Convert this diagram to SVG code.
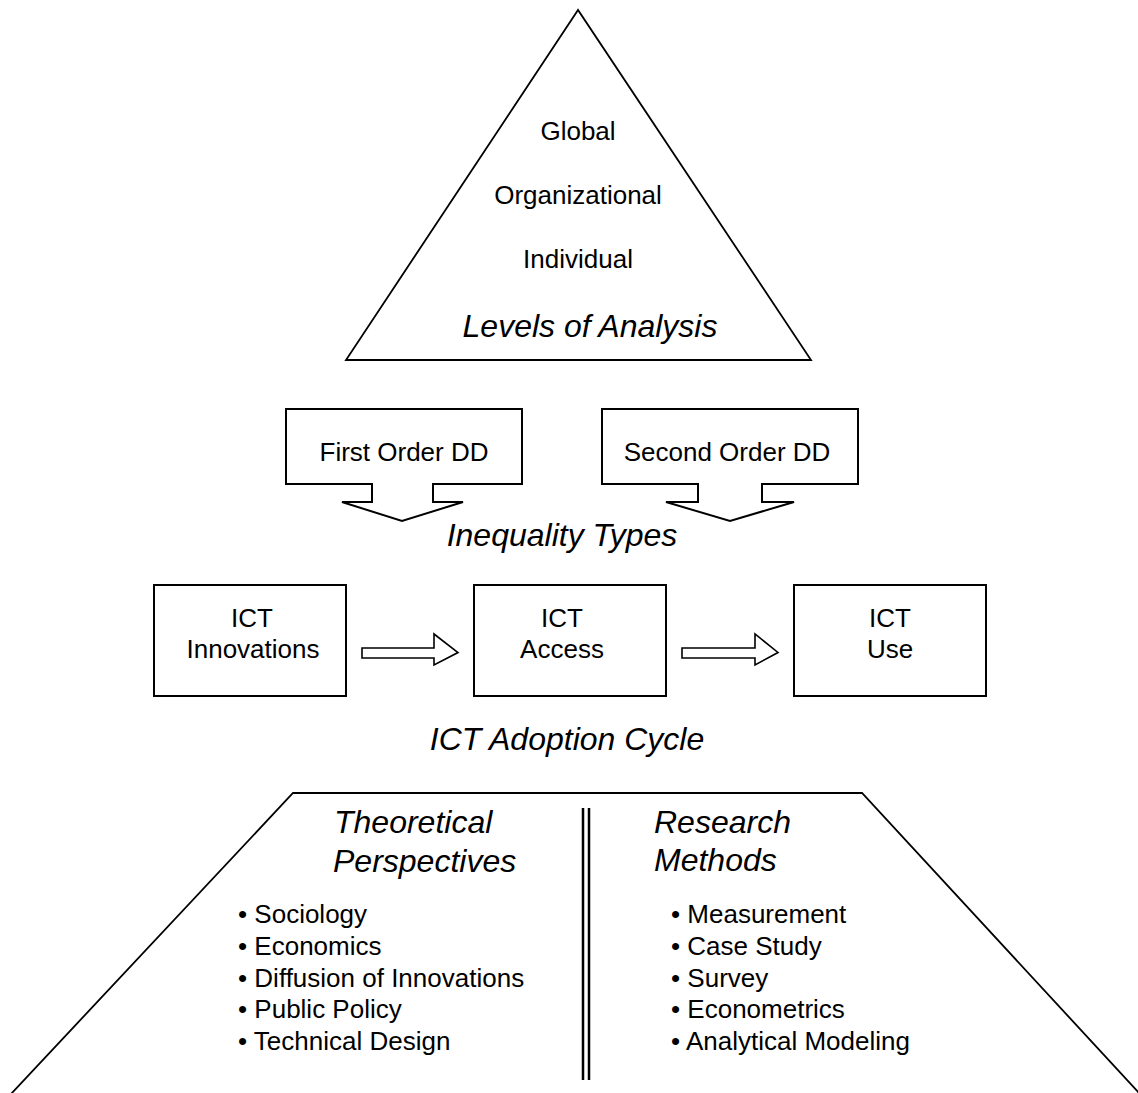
<svg xmlns="http://www.w3.org/2000/svg" width="1138" height="1093" viewBox="0 0 1138 1093">
<style>
.s{fill:#fff;stroke:#000;stroke-width:2;stroke-linejoin:miter}
.o{fill:none;stroke:#000;stroke-width:1.8}
.t{font-family:"Liberation Sans",Arial,sans-serif;font-size:26px;fill:#000}
.c{text-anchor:middle}
.h{font-family:"Liberation Sans",Arial,sans-serif;font-size:32px;font-style:italic;fill:#000}
</style>
<rect width="1138" height="1093" fill="#fff"/>
<g id="levels">
<polygon class="s" points="578,10 346,360 811,360" style="stroke-width:1.8"/>
<text class="t c" x="578" y="140">Global</text>
<text class="t c" x="578" y="204">Organizational</text>
<text class="t c" x="578" y="268">Individual</text>
<text class="h c" x="590" y="337">Levels of Analysis</text>
</g>
<g id="first-order">
<path class="s" d="M286,409 H522 V484 H433 V502 H463 L402,521 L342,502 H372 V484 H286 Z"/>
<text class="t c" x="404" y="461">First Order DD</text>
</g>
<g id="second-order">
<path class="s" d="M602,409 H858 V484 H762 V502 H794 L730,521 L666,502 H698 V484 H602 Z"/>
<text class="t c" x="727" y="461">Second Order DD</text>
</g>
<g id="inequality-label">
<text class="h c" x="562" y="546">Inequality Types</text>
</g>
<g id="ict-innovations">
<rect class="s" x="154" y="585" width="192" height="111"/>
<text class="t c" x="252" y="627">ICT</text>
<text class="t c" x="253" y="658">Innovations</text>
</g>
<g id="ict-access">
<rect class="s" x="474" y="585" width="192" height="111"/>
<text class="t c" x="562" y="627">ICT</text>
<text class="t c" x="562" y="658">Access</text>
</g>
<g id="ict-use">
<rect class="s" x="794" y="585" width="192" height="111"/>
<text class="t c" x="890" y="627">ICT</text>
<text class="t c" x="890" y="658">Use</text>
</g>
<g id="connectors">
<path class="s" d="M362,648 H434 V634 L458,652.5 L434,665 V658 H362 Z" style="stroke-width:1.6"/>
<path class="s" d="M682,648 H755 V634 L778,652.5 L755,665 V658 H682 Z" style="stroke-width:1.6"/>
</g>
<g id="adoption-label">
<text class="h c" x="567" y="750">ICT Adoption Cycle</text>
</g>
<g id="foundation">
<polyline class="o" points="11,1094 293,793 862,793 1140,1094"/>
<line x1="583" y1="808" x2="583" y2="1080" stroke="#000" stroke-width="2.5"/>
<line x1="589" y1="808" x2="589" y2="1080" stroke="#000" stroke-width="2.5"/>
</g>
<g id="theoretical-perspectives">
<text class="h" x="334" y="833">Theoretical</text>
<text class="h" x="333" y="872">Perspectives</text>
<text class="t" x="238" y="923">• Sociology</text>
<text class="t" x="238" y="955">• Economics</text>
<text class="t" x="238" y="987">• Diffusion of Innovations</text>
<text class="t" x="238" y="1018">• Public Policy</text>
<text class="t" x="238" y="1050">• Technical Design</text>
</g>
<g id="research-methods">
<text class="h" x="654" y="833">Research</text>
<text class="h" x="654" y="871">Methods</text>
<text class="t" x="671" y="923">• Measurement</text>
<text class="t" x="671" y="955">• Case Study</text>
<text class="t" x="671" y="987">• Survey</text>
<text class="t" x="671" y="1018">• Econometrics</text>
<text class="t" x="671" y="1050">• Analytical Modeling</text>
</g>
</svg>
